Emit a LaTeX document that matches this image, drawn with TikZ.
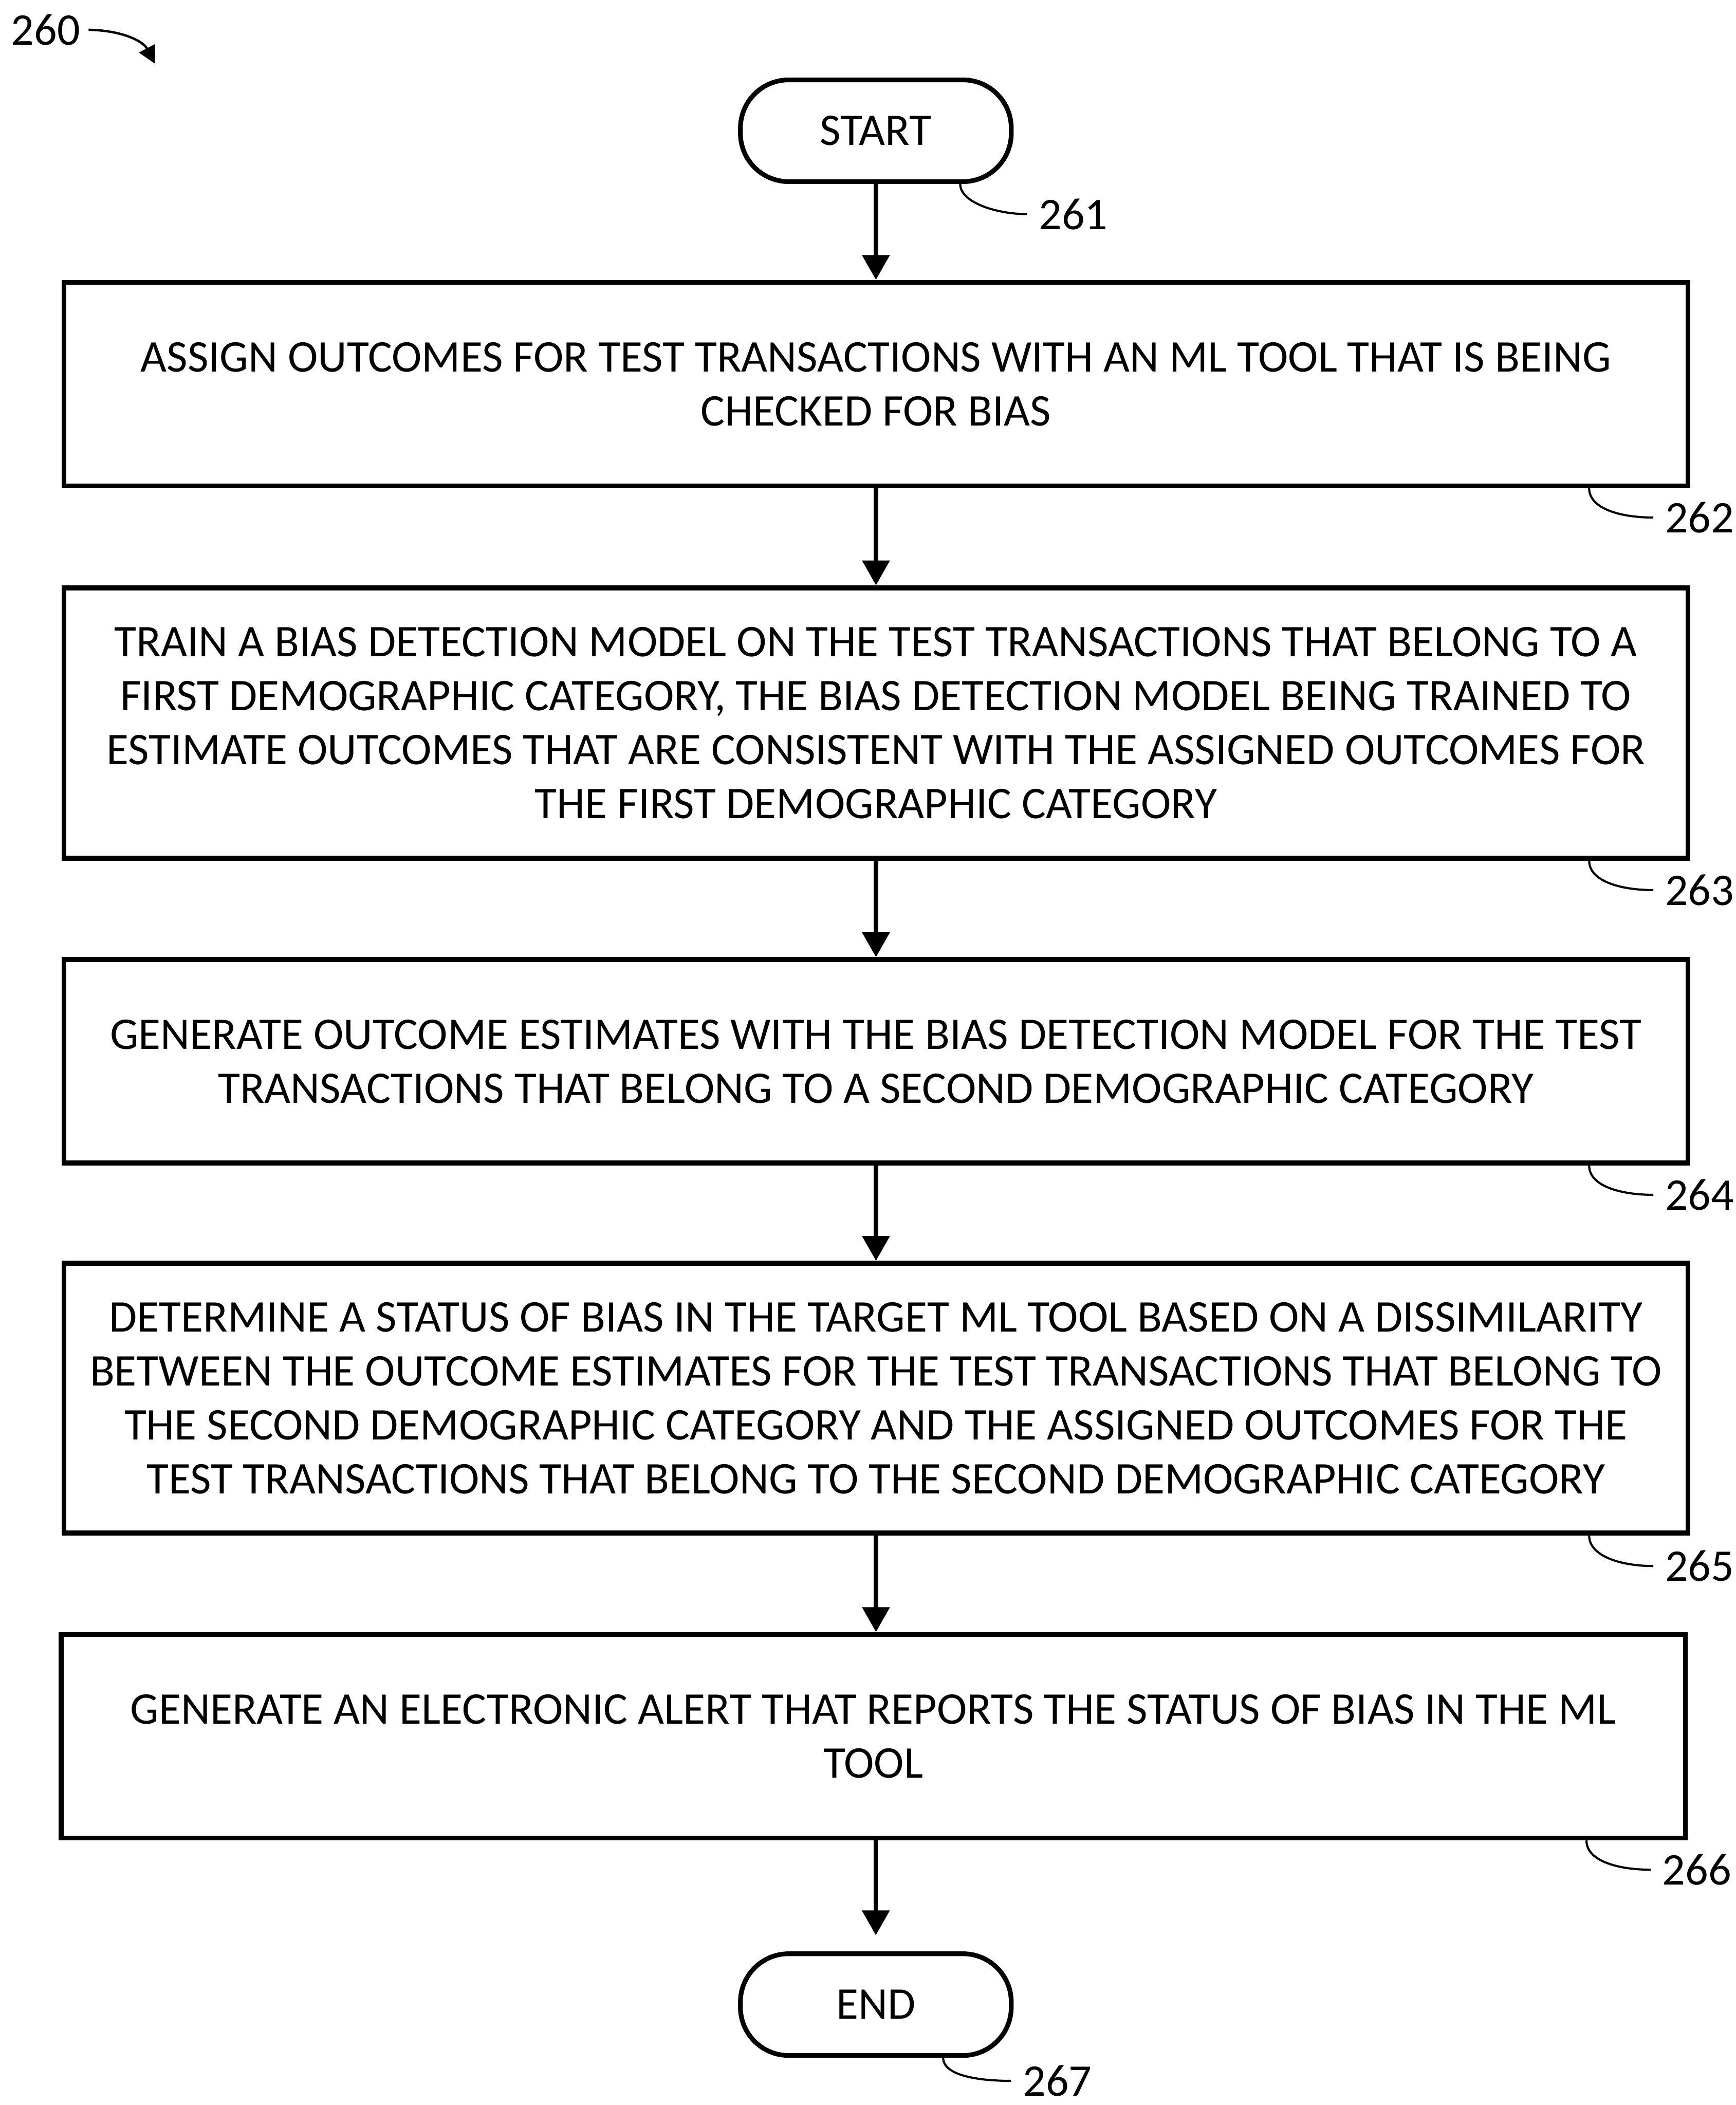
\documentclass[tikz,border=0pt]{standalone}
\usepackage{fontspec}
\setmainfont{Carlito}
\usetikzlibrary{arrows.meta}
\newcommand\fsz{\fontsize{19.2pt}{22.9pt}\selectfont}
\begin{document}
\begin{tikzpicture}[x=0.02cm,y=-0.02cm,
  box/.style={draw, line width=2.1pt, minimum width=24.2cm, align=center, inner sep=0pt, font=\fsz},
  term/.style={draw, line width=2pt, rounded corners=0.72cm, minimum width=4.036cm, minimum height=1.516cm, inner sep=0pt, font=\fsz},
  flow/.style={line width=1.85pt, -{Triangle[length=0.37cm,width=0.4cm]}},
  leader/.style={line width=0.9pt},
  refarrow/.style={line width=1pt, -{Triangle[length=0.26cm,width=0.26cm]}},
  num/.style={inner sep=0pt, anchor=west, font=\fsz}]
\useasboundingbox (0,0) rectangle (1293,1568);

\node[term] (s261) at (652.4,97.4) {START};
\node[box, minimum height=3.032cm] (b262) at (652.5,286.1)
  {ASSIGN OUTCOMES FOR TEST TRANSACTIONS WITH AN ML TOOL THAT IS BEING\\CHECKED FOR BIAS};
\node[box, minimum height=4.03cm] (b263) at (652.5,538.55)
  {TRAIN A BIAS DETECTION MODEL ON THE TEST TRANSACTIONS THAT BELONG TO A\\
   FIRST DEMOGRAPHIC CATEGORY, THE BIAS DETECTION MODEL BEING TRAINED TO\\
   ESTIMATE OUTCOMES THAT ARE CONSISTENT WITH THE ASSIGNED OUTCOMES FOR\\
   THE FIRST DEMOGRAPHIC CATEGORY};
\node[box, minimum height=3.032cm] (b264) at (652.5,790.6)
  {GENERATE OUTCOME ESTIMATES WITH THE BIAS DETECTION MODEL FOR THE TEST\\
   TRANSACTIONS THAT BELONG TO A SECOND DEMOGRAPHIC CATEGORY};
\node[box, minimum height=4.02cm] (b265) at (652.5,1041.5)
  {DETERMINE A STATUS OF BIAS IN THE TARGET ML TOOL BASED ON A DISSIMILARITY\\
   BETWEEN THE OUTCOME ESTIMATES FOR THE TEST TRANSACTIONS THAT BELONG TO\\
   THE SECOND DEMOGRAPHIC CATEGORY AND THE ASSIGNED OUTCOMES FOR THE\\
   TEST TRANSACTIONS THAT BELONG TO THE SECOND DEMOGRAPHIC CATEGORY};
\node[box, minimum height=3.032cm] (b266) at (650.5,1293.3)
  {GENERATE AN ELECTRONIC ALERT THAT REPORTS THE STATUS OF BIAS IN THE ML\\TOOL};
\node[term] (e267) at (652.4,1493.2) {END};

% flow arrows
\draw[flow] (s261) -- (b262);
\draw[flow] (b262) -- (b263);
\draw[flow] (b263) -- (b264);
\draw[flow] (b264) -- (b265);
\draw[flow] (b265.south -| b264.south) -- (b264.south |- b266.north);
\draw[flow, shorten >=0.24cm] (b266.south -| e267.north) -- (e267.north);

% reference numerals
\node[num, anchor=center] (n260) at (34,22.2) {260};
\coordinate (t260) at (115.5,47.5);
\draw[refarrow] ([xshift=0.12cm]n260.east) .. controls +(25,0.5) and +(-9,-17) .. (t260);

\node[num] (n261) at (773.5,159.5) {261};
\node[num] (n262) at (1240,385.5) {262};
\node[num] (n263) at (1240,663) {263};
\node[num] (n264) at (1240,890) {264};
\node[num] (n265) at (1240,1166.5) {265};
\node[num] (n266) at (1238,1392.7) {266};
\node[num] (n267) at (761.6,1550) {267};

\draw[leader] ([xshift=-0.796cm]s261.south east) .. controls +(0,14) and +(-22,0) .. ([xshift=-0.17cm]n261.west);
\draw[leader] ([xshift=-1.51cm]b262.south east) .. controls +(0,15) and +(-25,0) .. ([xshift=-0.17cm]n262.west);
\draw[leader] ([xshift=-1.51cm]b263.south east) .. controls +(0,15) and +(-25,0) .. ([xshift=-0.17cm]n263.west);
\draw[leader] ([xshift=-1.51cm]b264.south east) .. controls +(0,15) and +(-25,0) .. ([xshift=-0.17cm]n264.west);
\draw[leader] ([xshift=-1.51cm]b265.south east) .. controls +(0,15) and +(-25,0) .. ([xshift=-0.17cm]n265.west);
\draw[leader] ([xshift=-1.51cm]b266.south east) .. controls +(0,15) and +(-25,0) .. ([xshift=-0.17cm]n266.west);
\draw[leader] ([xshift=-1.05cm]e267.south east) .. controls +(0,13) and +(-25,0) .. ([xshift=-0.17cm]n267.west);
\end{tikzpicture}
\end{document}
